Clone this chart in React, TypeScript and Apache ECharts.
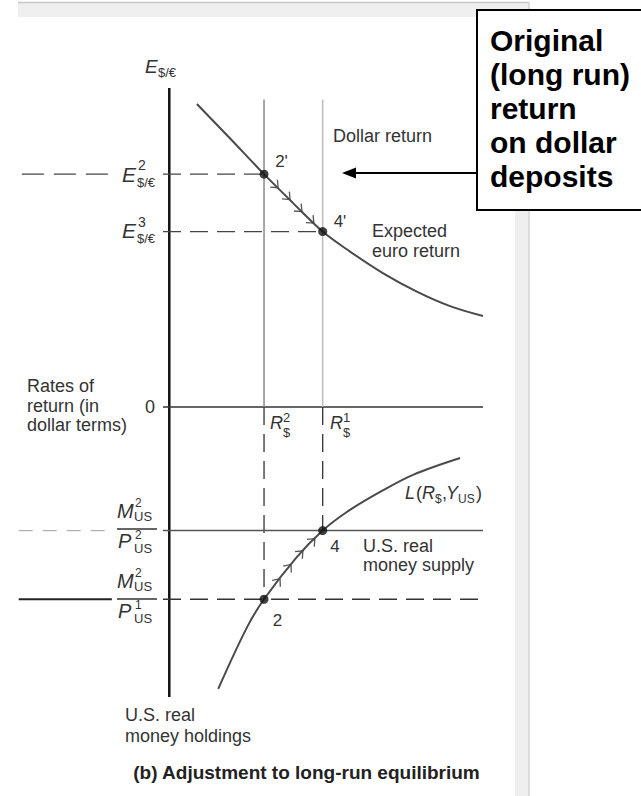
import React, { useEffect, useRef } from "react";
import * as echarts from "echarts";

// ---- data (abstract diagram units) ----
const R2 = 3.02; // R$^2
const R1 = 4.89; // R$^1
const E2 = 8.03; // E^2 $/€
const E3 = 6.05; // E^3 $/€
const MP2 = -4.26; // M2/P2
const MP1 = -6.63; // M2/P1
const LINE_TOP = 10.6;

const euroX = [0.88, 1.94, 3.02, 3.94, 4.89, 5.76, 6.82, 7.89, 8.95, 10.0];
const euroY = [10.45, 9.26, 8.03, 7.04, 6.05, 5.36, 4.61, 3.98, 3.48, 3.14];

const liqX = [1.56, 2.48, 3.02, 4.07, 4.89, 5.66, 6.72, 7.77, 9.27];
const liqY = [-9.72, -7.59, -6.63, -5.17, -4.26, -3.62, -2.93, -2.34, -1.76];

const upArrowX = [3.47, 3.85, 4.23, 4.61];
const upArrowY = [7.56, 7.15, 6.74, 6.34];
const lowArrowX = [3.53, 3.88, 4.26, 4.64];
const lowArrowY = [-5.92, -5.43, -4.96, -4.54];

const pointLabels = ["2'", "4'", "4", "2"];
const boxLines = ["Original", "(long run)", "return", "on dollar", "deposits"];

const X_MIN = -4.8, X_MAX = 10, Y_MIN = -10, Y_MAX = 11;
const FONT = '"Liberation Sans", Arial, Helvetica, sans-serif';

function T(x: number, y: number, text: string, size: number, o: any = {}) {
  return {
    type: "text",
    x,
    y,
    silent: true,
    style: {
      text,
      fontSize: size,
      fontFamily: FONT,
      fontStyle: o.italic ? "italic" : "normal",
      fontWeight: o.bold ? "bold" : "normal",
      fill: o.fill || "#333",
      align: o.align || "left",
      verticalAlign: o.va || "middle",
    },
  };
}

function seg(data: number[][], color: string, width: number, type: any = "solid") {
  return {
    type: "line",
    data,
    symbol: "none",
    silent: true,
    lineStyle: { color, width, type },
    z: 3,
  };
}

export default function App() {
  const ref = useRef<HTMLDivElement>(null);
  useEffect(() => {
    if (!ref.current) return;
    const chart = echarts.init(ref.current, null, { renderer: "svg" });
    const dash = [18, 9];
    const euroData = euroX.map((x, i) => [x, euroY[i]]);
    const liqData = liqX.map((x, i) => [x, liqY[i]]);
    const arrowData = [
      ...upArrowX.map((x, i) => [x, upArrowY[i], 0]),
      ...lowArrowX.map((x, i) => [x, lowArrowY[i], 1]),
    ];
    const curves = [euroData, liqData];

    const renderChevron = (params: any, api: any) => {
      const x = api.value(0), y = api.value(1), c = api.value(2);
      const cur = curves[c];
      let k = 0;
      for (let i = 0; i < cur.length - 1; i++) if (x >= cur[i][0] && x <= cur[i + 1][0]) k = i;
      const p1 = api.coord(cur[k]);
      const p2 = api.coord(cur[k + 1]);
      let dx = p2[0] - p1[0], dy = p2[1] - p1[1];
      const L = Math.hypot(dx, dy);
      dx /= L; dy /= L;
      const tip = api.coord([x, y]);
      const len = 8, a = (40 * Math.PI) / 180;
      const bx = -dx, by = -dy;
      const w1 = [tip[0] + len * (bx * Math.cos(a) - by * Math.sin(a)), tip[1] + len * (bx * Math.sin(a) + by * Math.cos(a))];
      const w2 = [tip[0] + len * (bx * Math.cos(-a) - by * Math.sin(-a)), tip[1] + len * (bx * Math.sin(-a) + by * Math.cos(-a))];
      return {
        type: "polyline",
        shape: { points: [w1, tip, w2] },
        style: { stroke: "#555", lineWidth: 1.3, fill: "none" },
      };
    };

    const fracLabel = (x: number, yc: number, den: string) => [
      T(x, yc - 19.5, "M", 20, { italic: true }),
      T(x + 18, yc - 27, "2", 12),
      T(x + 17, yc - 13.5, "US", 13),
      { type: "line", silent: true, shape: { x1: x, y1: yc - 1, x2: x + 40, y2: yc - 1 }, style: { stroke: "#333", lineWidth: 1.5 } },
      T(x + 1, yc + 11, "P", 20, { italic: true }),
      T(x + 18, yc + 4.5, den, 12),
      T(x + 17, yc + 18, "US", 13),
    ];

    const graphics: any[] = [
      // page chrome
      { type: "rect", silent: true, shape: { x: 18, y: 2, width: 511, height: 15 }, style: { fill: "#efefef" } },
      { type: "line", silent: true, shape: { x1: 18, y1: 2.5, x2: 529, y2: 2.5 }, style: { stroke: "#c8c8c8", lineWidth: 1.5 } },
      { type: "rect", silent: true, shape: { x: 515, y: 17, width: 14, height: 779 }, style: { fill: "#efefef" } },
      { type: "line", silent: true, shape: { x1: 529, y1: 2, x2: 529, y2: 796 }, style: { stroke: "#d4d4d4", lineWidth: 1.5 } },
      // box
      { type: "rect", silent: true, shape: { x: 477, y: 10, width: 170, height: 200 }, style: { fill: "#fff", stroke: "#000", lineWidth: 2 } },
      ...boxLines.map((t, i) => T(490, 40 + i * 34, t, 30, { bold: true, fill: "#000" })),
      // arrow
      { type: "line", silent: true, shape: { x1: 476, y1: 173, x2: 352, y2: 173 }, style: { stroke: "#000", lineWidth: 2 } },
      { type: "polygon", silent: true, shape: { points: [[342, 173], [356, 167.5], [356, 178.5]] }, style: { fill: "#000" } },
      // axis labels
      T(145, 66.5, "E", 19, { italic: true }),
      T(158, 72, "$/€", 13),
      T(122, 174.5, "E", 21, { italic: true }),
      T(138, 165, "2", 14),
      T(137, 182, "$/€", 13),
      T(122, 230.5, "E", 21, { italic: true }),
      T(138, 221.5, "3", 14),
      T(137, 238, "$/€", 13),
      T(150, 407, "0", 18, { align: "center" }),
      T(27, 385.5, "Rates of", 18),
      T(27, 405.5, "return (in", 18),
      T(27, 425, "dollar terms)", 18),
      T(270, 423, "R", 18, { italic: true }),
      T(283, 417.5, "2", 13),
      T(283, 432, "$", 13),
      T(330, 423, "R", 18, { italic: true }),
      T(343, 417.5, "1", 13),
      T(343, 432, "$", 13),
      ...fracLabel(117, 530, "2"),
      ...fracLabel(117, 600, "1"),
      // curve / point labels
      T(333, 135.5, "Dollar return", 18),
      T(372, 230.5, "Expected", 18),
      T(372, 250.5, "euro return", 18),
      T(281.5, 161, pointLabels[0], 17, { align: "center" }),
      T(340, 221.5, pointLabels[1], 17, { align: "center" }),
      T(335, 546.5, pointLabels[2], 17, { align: "center" }),
      T(277.5, 620, pointLabels[3], 17, { align: "center" }),
      T(363, 546, "U.S. real", 18),
      T(363, 565, "money supply", 18),
      T(405, 493, "L", 18, { italic: true }),
      T(416, 493, "(", 18),
      T(422, 493, "R", 18, { italic: true }),
      T(435, 499, "$", 12),
      T(442, 493, ",", 18),
      T(446, 493, "Y", 18, { italic: true }),
      T(458, 499, "US", 12),
      T(476, 493, ")", 18),
      T(125, 715, "U.S. real", 18),
      T(125, 735.5, "money holdings", 18),
      T(306.5, 772.5, "(b) Adjustment to long-run equilibrium", 19, { bold: true, align: "center", fill: "#222" }),
    ];

    chart.setOption({
      animation: false,
      backgroundColor: "#fff",
      grid: { left: 18.7, right: 158, top: 88, bottom: 99 },
      xAxis: { type: "value", min: X_MIN, max: X_MAX, show: false },
      yAxis: { type: "value", min: Y_MIN, max: Y_MAX, show: false },
      graphic: graphics,
      series: [
        seg([[0, Y_MIN], [0, Y_MAX]], "#111", 2.5),
        seg([[-0.2, 0], [X_MAX, 0]], "#333", 1.5),
        seg([[R2, 0], [R2, LINE_TOP]], "#8a8a8a", 1.5),
        seg([[R1, 0], [R1, LINE_TOP]], "#bdbdbd", 1.5),
        seg([[R2, 0], [R2, MP1]], "#333", 1.3, dash),
        seg([[R1, 0], [R1, MP2]], "#333", 1.3, dash),
        seg([[-4.7, E2], [-1.67, E2]], "#444", 1.3, [22, 10]),
        seg([[-0.2, E2], [R2, E2]], "#444", 1.3, dash),
        seg([[-0.2, E3], [R1, E3]], "#444", 1.3, dash),
        seg([[X_MIN, MP2], [-1.83, MP2]], "#b0b0b0", 1.3, [14, 10]),
        seg([[-0.2, MP2], [X_MAX, MP2]], "#555", 1.5),
        seg([[X_MIN, MP1], [-1.83, MP1]], "#222", 2),
        seg([[-0.2, MP1], [X_MAX, MP1]], "#333", 1.3, dash),
        {
          type: "line", data: euroData, symbol: "none", smooth: 0.35, silent: true,
          lineStyle: { color: "#4a4a4a", width: 2 }, z: 4,
        },
        {
          type: "line", data: liqData, symbol: "none", smooth: 0.35, silent: true,
          lineStyle: { color: "#4a4a4a", width: 2 }, z: 4,
        },
        {
          type: "custom", renderItem: renderChevron, data: arrowData, silent: true, z: 4,
        },
        {
          type: "scatter", silent: true, symbolSize: 9, z: 5,
          itemStyle: { color: "#111" },
          data: [[R2, E2], [R1, E3], [R1, MP2], [R2, MP1]],
        },
      ],
    });
    return () => chart.dispose();
  }, []);
  return <div ref={ref} style={{ position: "absolute", left: 0, top: 0, width: 641, height: 796 }} />;
}
